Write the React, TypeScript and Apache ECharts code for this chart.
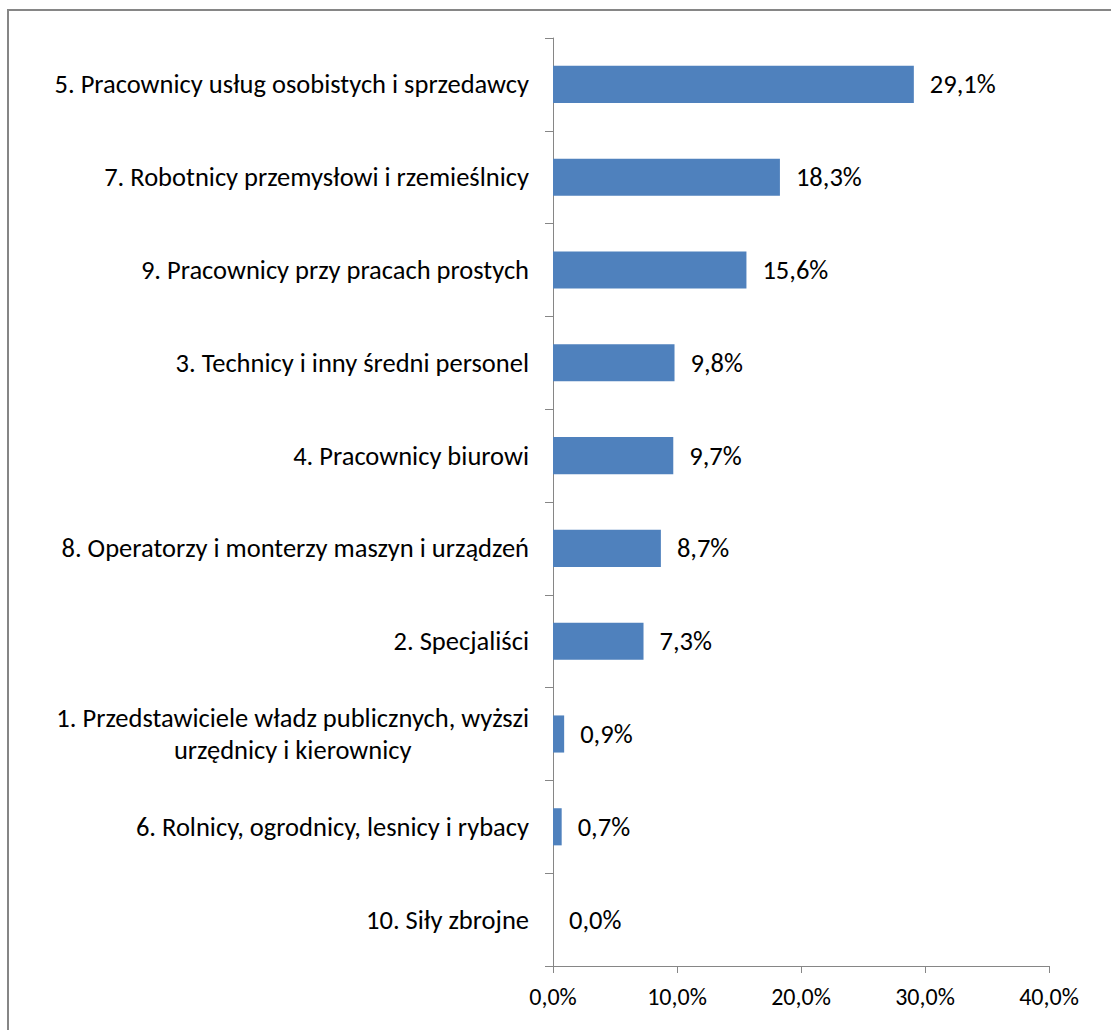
import React, { useEffect, useRef } from "react";
import * as echarts from "echarts";

const categories = [
  "5. Pracownicy usług osobistych i sprzedawcy",
  "7. Robotnicy przemysłowi i rzemieślnicy",
  "9. Pracownicy przy pracach prostych",
  "3. Technicy i inny średni personel",
  "4. Pracownicy biurowi",
  "8. Operatorzy i monterzy maszyn i urządzeń",
  "2. Specjaliści",
  "1. Przedstawiciele władz publicznych, wyższi\nurzędnicy i kierownicy",
  "6. Rolnicy, ogrodnicy, lesnicy i rybacy",
  "10. Siły zbrojne",
];
const values = [29.1, 18.3, 15.6, 9.8, 9.7, 8.7, 7.3, 0.9, 0.7, 0.0];
const axisMin = 0;
const axisMax = 40;
const axisStep = 10;

const FONT = "Carlito, Lato, 'Open Sans', sans-serif";
const fmt = (v: number) => v.toFixed(1).replace(".", ",") + "%";

export default function App() {
  const ref = useRef<HTMLDivElement>(null);
  useEffect(() => {
    document.body.style.margin = "0";
    const chart = echarts.init(ref.current!, null, { renderer: "svg" });
    chart.setOption({
      animation: false,
      backgroundColor: "#ffffff",
      graphic: [
        {
          type: "rect",
          shape: { x: 8, y: 10, width: 1200, height: 1100 },
          style: { fill: "none", stroke: "#868686", lineWidth: 2 },
          silent: true,
        },
      ],
      grid: { left: 553, right: 62, top: 38, bottom: 64, containLabel: false },
      xAxis: {
        type: "value",
        min: axisMin,
        max: axisMax,
        interval: axisStep,
        axisLine: { show: true, lineStyle: { color: "#868686", width: 1 } },
        axisTick: { show: true, length: 7, lineStyle: { color: "#868686" } },
        splitLine: { show: false },
        axisLabel: {
          formatter: (v: number) => fmt(v),
          color: "#000000",
          fontFamily: FONT,
          fontSize: 24,
          margin: 18,
        },
      },
      yAxis: {
        type: "category",
        inverse: true,
        data: categories,
        axisLine: { show: true, lineStyle: { color: "#868686", width: 1 } },
        axisTick: { show: true, length: 8, alignWithLabel: false, lineStyle: { color: "#868686" } },
        axisLabel: {
          color: "#000000",
          fontFamily: FONT,
          fontSize: 26.5,
          margin: 24,
          lineHeight: 32,
          formatter: (v: string) =>
            v
              .split("\n")
              .map((l) => "{c|" + l + "}")
              .join("\n"),
          rich: {
            c: {
              align: "center",
              color: "#000000",
              fontFamily: FONT,
              fontSize: 26.5,
              lineHeight: 32,
            },
          },
        },
      },
      series: [
        {
          type: "bar",
          data: values,
          barWidth: "40%",
          itemStyle: { color: "#4F81BD" },
          label: {
            show: true,
            position: "right",
            distance: 16,
            formatter: (p: any) => fmt(p.value),
            color: "#000000",
            fontFamily: FONT,
            fontSize: 26.5,
          },
        },
      ],
    });
    return () => chart.dispose();
  }, []);
  return <div ref={ref} style={{ width: 1111, height: 1030 }} />;
}
